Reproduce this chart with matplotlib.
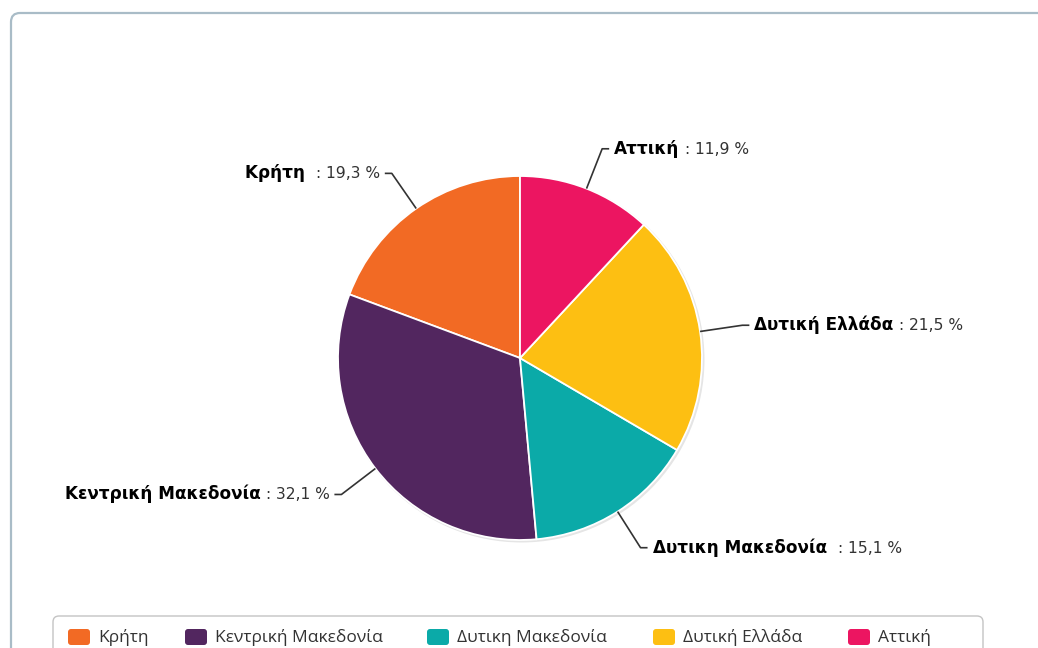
import numpy as np
import matplotlib
matplotlib.use('Agg')
import matplotlib.pyplot as plt
from matplotlib.patches import FancyBboxPatch, Circle

# data (names keep the trailing spaces of the source labels)
regions = ['Κρήτη ', 'Κεντρική Μακεδονία', 'Δυτικη Μακεδονία ', 'Δυτική Ελλάδα', 'Αττική']
shares = [19.3, 32.1, 15.1, 21.5, 11.9]
colors = ['#F26A24', '#52265F', '#0BAAA8', '#FDBF12', '#EC1561']

W, H = 1038, 648


def plot_pie():
    fig = plt.figure(figsize=(W / 100, H / 100), dpi=100)
    ax = fig.add_axes([0, 0, 1, 1])

    cx, cy, r = 520, H - 358, 182

    # soft shadow under the pie
    ax.add_patch(Circle((cx + 1.5, cy - 1.5), r + 1, color='#000000', alpha=0.10, zorder=0, lw=0))

    wedges, _ = ax.pie(
        shares,
        colors=colors,
        startangle=90,
        counterclock=True,
        center=(cx, cy),
        radius=r,
        wedgeprops=dict(edgecolor='white', linewidth=1.3),
    )

    ax.set_xlim(0, W)
    ax.set_ylim(0, H)
    ax.set_aspect('equal', adjustable='box')
    ax.axis('off')

    # data labels with connectors
    for w, name, v in zip(wedges, regions, shares):
        theta = np.deg2rad((w.theta1 + w.theta2) / 2)
        c, s = np.cos(theta), np.sin(theta)
        side = 1 if c >= 0 else -1
        x0, y0 = cx + r * c, cy + r * s
        x1, y1 = cx + 1.235 * r * c, cy + 1.235 * r * s
        x2 = x1 + 7 * side
        ax.plot([x0, x1, x2], [y0, y1, y1], color='#333333', lw=1.2,
                solid_capstyle='butt', zorder=3)
        val = ' : ' + f'{v:.1f}'.replace('.', ',') + ' %'
        tx = x2 + 5 * side
        yb = y1 - 5  # text baseline
        if side > 0:
            t = ax.text(tx, yb, name, ha='left', va='baseline', fontsize=12.2,
                        fontweight='bold', color='#000000', family='DejaVu Sans')
            ax.annotate(val, xy=(1, yb), xycoords=(t, 'data'), ha='left', va='baseline',
                        fontsize=11.2, color='#333333', family='DejaVu Sans')
        else:
            t = ax.text(tx, yb, val, ha='right', va='baseline', fontsize=11.2,
                        color='#333333', family='DejaVu Sans')
            ax.annotate(name, xy=(0, yb), xycoords=(t, 'data'), ha='right', va='baseline',
                        fontsize=12.2, fontweight='bold', color='#000000',
                        family='DejaVu Sans')

    # outer container frame
    ax.add_patch(FancyBboxPatch((11, -60), W + 100, H - 13 + 60,
                                boxstyle='round,pad=0,rounding_size=9',
                                fc='none', ec='#A9BCC7', lw=1.6, zorder=1))

    # legend box
    ax.add_patch(FancyBboxPatch((53, -40), 983 - 53, H - 616 + 40,
                                boxstyle='round,pad=0,rounding_size=6',
                                fc='none', ec='#C4C4C4', lw=1.0, zorder=1))
    legend_x = [68, 185, 427, 653, 848]
    ly = H - 637
    for x, name, col in zip(legend_x, regions, colors):
        ax.add_patch(FancyBboxPatch((x, ly - 8), 22, 16,
                                    boxstyle='round,pad=0,rounding_size=3',
                                    fc=col, ec='none', zorder=2))
        ax.text(x + 30, ly, name.strip(), ha='left', va='center', fontsize=12.5,
                color='#333333', family=['Open Sans', 'DejaVu Sans'])

    plt.savefig('out.png', dpi=100)


if __name__ == '__main__':
    plot_pie()
